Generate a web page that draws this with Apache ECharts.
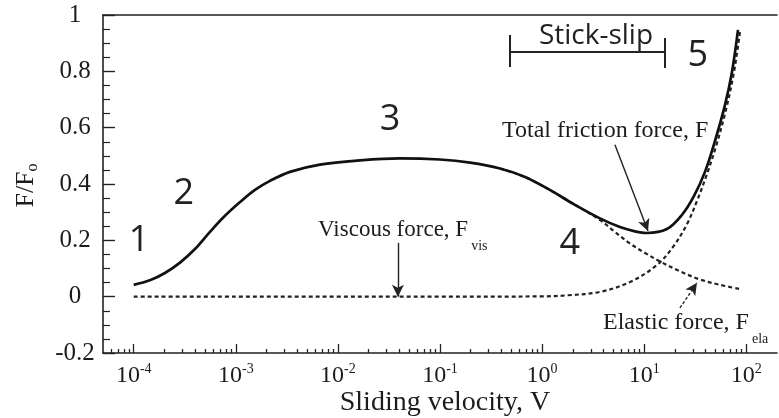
<!DOCTYPE html>
<html>
<head>
<meta charset="utf-8">
<script src="https://cdn.jsdelivr.net/npm/echarts@6.0.0/dist/echarts.min.js"></script>
<style>
html,body{margin:0;padding:0;background:#fff;}
#c{width:779px;height:418px;}
</style>
</head>
<body>
<div id="c"></div>
<script>
// ---- data (velocity V, normalised force F/F0) ----
const totalV = [1e-4, 1.44e-4, 2.02e-4, 2.84e-4, 3.98e-4, 5.58e-4, 7.83e-4, 1.1e-3, 1.54e-3, 2.16e-3, 3.39e-3, 6.67e-3, 0.0165, 0.0405, 0.1, 0.197, 0.387, 0.68, 1.19, 2.1, 3.69, 5.79, 8.12, 10.6, 16.7, 23.4, 30.7, 39.4, 49.4, 61.8, 72.4, 83];
const totalF = [0.042, 0.058, 0.084, 0.121, 0.169, 0.230, 0.287, 0.336, 0.379, 0.411, 0.443, 0.469, 0.484, 0.491, 0.487, 0.476, 0.455, 0.425, 0.379, 0.326, 0.278, 0.247, 0.232, 0.226, 0.240, 0.290, 0.357, 0.443, 0.553, 0.680, 0.797, 0.947];

const viscousV = [1e-4, 1e-3, 0.01, 0.1, 1, 1.8, 3.69, 7.26, 13.3, 19.1, 26.3, 32.9, 40.3, 50.5, 63.2, 75.7, 86.7];
const viscousF = [0, 0, 0, 0, 0.001, 0.005, 0.017, 0.052, 0.112, 0.176, 0.258, 0.340, 0.425, 0.533, 0.663, 0.796, 0.939];

const elasticV = [0.387, 0.68, 1.19, 2.1, 3.69, 5.17, 7.25, 10.2, 14.3, 22.4, 35.2, 55.2, 86.7];
const elasticF = [0.455, 0.425, 0.379, 0.326, 0.272, 0.230, 0.189, 0.155, 0.125, 0.090, 0.061, 0.042, 0.027];

// ---- axis ticks ----
const xMin = 5e-5, xMax = 200;
const xMajorTicks = [1e-4, 1e-3, 1e-2, 1e-1, 1, 10, 100];
const xTickExps = ['-4', '-3', '-2', '-1', '0', '1', '2'];
const xMinorTicks = [
  6e-5, 7e-5, 8e-5, 9e-5,
  2e-4, 3e-4, 4e-4, 5e-4, 6e-4, 7e-4, 8e-4, 9e-4,
  2e-3, 3e-3, 4e-3, 5e-3, 6e-3, 7e-3, 8e-3, 9e-3,
  0.02, 0.03, 0.04, 0.05, 0.06, 0.07, 0.08, 0.09,
  0.2, 0.3, 0.4, 0.5, 0.6, 0.7, 0.8, 0.9,
  2, 3, 4, 5, 6, 7, 8, 9,
  20, 30, 40, 50, 60, 70, 80, 90
];
const yMin = -0.2, yMax = 1, yStep = 0.2;

// ---- annotations (anchors in data coordinates) ----
const regionLabels = ['1', '2', '3', '4', '5'];
const regionV = [1.13e-4, 3.1e-4, 0.0324, 1.87, 33.5];
const regionF = [0.198, 0.366, 0.627, 0.187, 0.854];

const serif = '"Liberation Serif", "Times New Roman", serif';
const ink = '#1c1c1c';

const tickAxis = (values, len) => ({
  type: 'log', logBase: 10, min: xMin, max: xMax, position: 'bottom', gridIndex: 0,
  axisLine: { show: false, onZero: true, onZeroAxisIndex: 1 },
  axisTick: { show: true, inside: true, length: len, customValues: values, lineStyle: { color: '#222', width: 1.3 } },
  axisLabel: { show: false }, splitLine: { show: false }, minorTick: { show: false }
});

const option = {
  animation: false,
  backgroundColor: '#ffffff',
  grid: { left: 103, right: 2, top: 15, bottom: 65, containLabel: false, outerBoundsMode: 'none' },
  xAxis: [
    {
      type: 'log', logBase: 10, min: xMin, max: xMax, position: 'bottom',
      name: 'Sliding velocity, V', nameLocation: 'middle', nameGap: 36, nameMoveOverlap: false,
      nameTextStyle: { fontFamily: serif, fontSize: 28, color: ink, padding: [0, 0, 0, 10] },
      axisLine: { show: true, onZero: false, lineStyle: { color: '#222', width: 1.6 } },
      axisTick: { show: false },
      minorTick: { show: false },
      splitLine: { show: false },
      axisLabel: {
        customValues: xMajorTicks, margin: 9,
        formatter: function (val) {
          let idx = -1;
          xMajorTicks.forEach((t, i) => { if (Math.abs(t - val) / t < 1e-6) idx = i; });
          return idx < 0 ? '' : '{b|10}{s|' + xTickExps[idx] + '}';
        },
        rich: {
          b: { fontFamily: serif, fontSize: 24, color: ink },
          s: { fontFamily: serif, fontSize: 14, color: ink, padding: [0, 0, 14, 0] }
        }
      }
    },
    tickAxis(xMajorTicks, 9),
    tickAxis(xMinorTicks, 4),
    {
      type: 'log', logBase: 10, min: xMin, max: xMax, position: 'top', gridIndex: 0,
      axisLine: { show: true, onZero: false, lineStyle: { color: '#222', width: 1.6 } },
      axisTick: { show: false }, axisLabel: { show: false }, splitLine: { show: false }
    }
  ],
  yAxis: [
    {
      type: 'value', min: yMin, max: yMax, interval: yStep,
      name: '{a|F/F}{s|o}', nameLocation: 'middle', nameRotate: 90, nameGap: 62, nameMoveOverlap: false,
      nameTextStyle: {
        padding: [0, 3, 0, 0],
        rich: {
          a: { fontFamily: serif, fontSize: 26, color: ink },
          s: { fontFamily: serif, fontSize: 16, color: ink, padding: [14, 0, 0, 0] }
        }
      },
      axisLine: { show: true, onZero: false, lineStyle: { color: '#222', width: 1.6 } },
      axisTick: { show: true, inside: true, length: 12, lineStyle: { color: '#222', width: 1.4 } },
      minorTick: { show: true, splitNumber: 4, length: 7, lineStyle: { color: '#222', width: 1.2 } },
      splitLine: { show: false },
      axisLabel: {
        margin: 28, align: 'center', fontFamily: serif, fontSize: 25, color: ink,
        formatter: function (v) { return String(Math.round(v * 10) / 10); }
      }
    },
    {
      type: 'value', min: 0, max: 1, show: false, gridIndex: 0,
      axisLine: { show: false, onZero: false }, splitLine: { show: false }
    }
  ],
  series: [
    {
      name: 'Total friction force', type: 'line', xAxisIndex: 0, yAxisIndex: 0,
      data: totalV.map((v, i) => [v, totalF[i]]),
      smooth: 0.35, showSymbol: false, z: 5,
      lineStyle: { color: '#111', width: 2.7 },
      markLine: {
        silent: true, symbol: ['none', 'arrow'], symbolSize: [9, 12],
        label: { show: false },
        lineStyle: { color: '#222', width: 1.4, type: 'solid' },
        data: [
          [{ coord: [5.17, 0.539] }, { coord: [10.9, 0.233] }],
          [{ coord: [0.0387, 0.191] }, { coord: [0.0387, 0.0] }],
          [{ coord: [22.4, -0.040], lineStyle: { type: [3, 2] } }, { coord: [32.9, 0.049] }]
        ]
      }
    },
    {
      name: 'Viscous force', type: 'line', xAxisIndex: 0, yAxisIndex: 0,
      data: viscousV.map((v, i) => [v, viscousF[i]]),
      smooth: 0.35, showSymbol: false, z: 4,
      lineStyle: { color: '#222', width: 2.2, type: [4, 3] }
    },
    {
      name: 'Elastic force', type: 'line', xAxisIndex: 0, yAxisIndex: 0,
      data: elasticV.map((v, i) => [v, elasticF[i]]),
      smooth: 0.35, showSymbol: false, z: 3,
      lineStyle: { color: '#222', width: 2.2, type: [4, 3] },
      markLine: {
        silent: true, symbol: ['none', 'none'], label: { show: false },
        lineStyle: { color: '#222', width: 2, type: 'solid' },
        data: [
          [{ coord: [0.484, 0.869] }, { coord: [16.0, 0.869] }],
          [{ coord: [0.484, 0.929] }, { coord: [0.484, 0.815] }],
          [{ coord: [16.0, 0.918] }, { coord: [16.0, 0.812] }]
        ]
      }
    }
  ]
};

const chart = echarts.init(document.getElementById('c'), null, { renderer: 'canvas' });
chart.setOption(option);

const toPx = (v, f) => chart.convertToPixel({ xAxisIndex: 0, yAxisIndex: 0 }, [v, f]);
const g = [];
regionLabels.forEach((t, i) => {
  const p = toPx(regionV[i], regionF[i]);
  g.push({ type: 'text', x: p[0], y: p[1], z: 10,
    style: { text: t, fontFamily: '"Open Sans", sans-serif', fontSize: 36, fill: '#222', align: 'center', verticalAlign: 'middle' } });
});
let p = toPx(3.37, 0.925);
g.push({ type: 'text', x: p[0], y: p[1], z: 10,
  style: { text: 'Stick-slip', fontFamily: '"Open Sans", sans-serif', fontSize: 28, fill: '#222', align: 'center', verticalAlign: 'middle' } });
const subRich = (size) => ({
  a: { fontFamily: serif, fontSize: size, fill: ink },
  s: { fontFamily: serif, fontSize: 14, fill: ink, padding: [32, 0, 0, 3] }
});
p = toPx(0.405, 0.588);
g.push({ type: 'text', x: p[0], y: p[1], z: 10,
  style: { text: 'Total friction force, F', fontFamily: serif, fontSize: 24, fill: ink, align: 'left', verticalAlign: 'middle' } });
p = toPx(6.4e-3, 0.237);
g.push({ type: 'text', x: p[0], y: p[1], z: 10,
  style: { text: '{a|Viscous force, F}{s|vis}', rich: subRich(23), align: 'left', verticalAlign: 'middle' } });
p = toPx(3.95, -0.093);
g.push({ type: 'text', x: p[0], y: p[1], z: 10,
  style: { text: '{a|Elastic force, F}{s|ela}', rich: subRich(24), align: 'left', verticalAlign: 'middle' } });
chart.setOption({ graphic: g });
</script>
</body>
</html>
